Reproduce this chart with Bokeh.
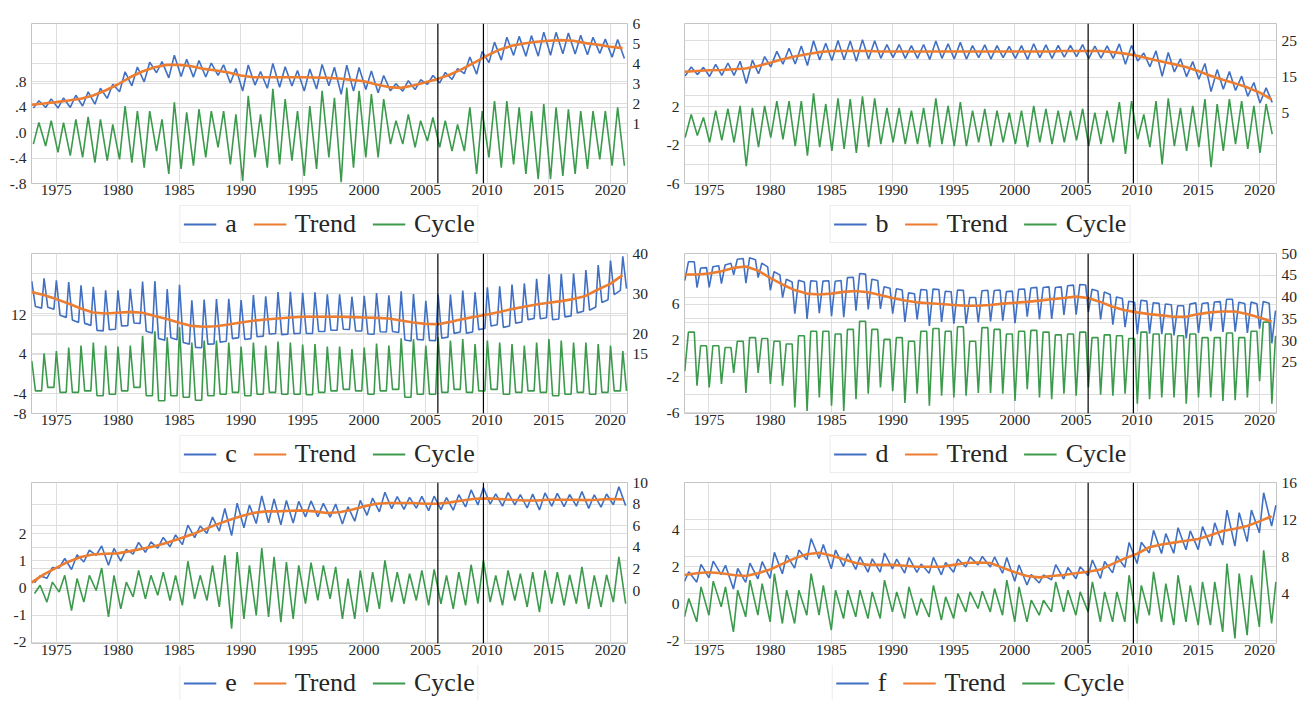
import numpy as np
from bokeh.plotting import figure
from bokeh.models import (Range1d, LinearAxis, FixedTicker, Grid, Span, Legend,
                          LegendItem, ColumnDataSource)
from bokeh.layouts import column, row
from bokeh.embed import file_html
from bokeh.resources import INLINE

# ---------------- data ----------------
years = list(range(1973, 2022))
x_ticks = [1975, 1980, 1985, 1990, 1995, 2000, 2005, 2010, 2015, 2020]
event_years = [2006.0, 2009.7]

names = ["a", "b", "c", "d", "e", "f"]

# panel a
a_trend = [1.94, 2.0, 2.07, 2.15, 2.24, 2.4, 2.65, 2.95, 3.31, 3.6,
           3.81, 3.93, 3.93, 3.86, 3.73, 3.65, 3.55, 3.4, 3.31, 3.31,
           3.31, 3.31, 3.31, 3.3, 3.28, 3.25, 3.18, 3.11, 2.95, 2.82,
           2.78, 2.9, 3.06, 3.23, 3.45, 3.73, 4.06, 4.39, 4.69, 4.89,
           5.0, 5.09, 5.14, 5.17, 5.14, 5.02, 4.94, 4.84, 4.77]
a_peak = [0.16, 0.19, 0.16, 0.21, 0.25, 0.21, 0.13, 0.42, 0.34, 0.34,
          0.21, 0.48, 0.32, 0.37, 0.34, 0.34, 0.29, 0.58, 0.29, 0.69,
          0.53, 0.34, 0.42, 0.66, 0.55, 0.71, 0.66, 0.61, 0.53, 0.19,
          0.29, 0.19, 0.24, 0.19, 0.13, 0.40, 0.34, 0.50, 0.50, 0.40,
          0.34, 0.45, 0.40, 0.37, 0.34, 0.34, 0.34, 0.40, 0.34]
a_trough = [-0.18, -0.21, -0.31, -0.36, -0.39, -0.47, -0.44, -0.42, -0.47, -0.55,
            -0.29, -0.65, -0.57, -0.52, -0.39, -0.23, -0.50, -0.76, -0.39, -0.55,
            -0.50, -0.44, -0.68, -0.57, -0.39, -0.78, -0.55, -0.39, -0.39, -0.18,
            -0.18, -0.23, -0.13, -0.23, -0.29, -0.29, -0.65, -0.39, -0.55, -0.50,
            -0.65, -0.73, -0.73, -0.68, -0.65, -0.57, -0.42, -0.52, -0.52]
a_left_range = [-0.8, 1.72]
a_right_range = [-2.0, 6.0]
a_left_ticks = [-0.8, -0.4, 0.0, 0.4, 0.8]
a_left_labels = ["-.8", "-.4", ".0", ".4", ".8"]
a_right_ticks = [1, 2, 3, 4, 5, 6]
a_right_labels = ["1", "2", "3", "4", "5", "6"]

# panel b
b_trend = [16.5, 16.7, 16.9, 17.0, 17.2, 17.4, 18.1, 19.0, 19.95, 20.7,
           21.3, 21.9, 22.2, 22.2, 22.2, 22.2, 22.1, 22.1, 22.1, 22.1,
           22.1, 22.1, 22.1, 22.1, 22.1, 22.1, 22.1, 22.1, 22.1, 22.1,
           22.1, 22.2, 22.2, 22.2, 22.2, 21.9, 21.5, 20.9, 20.1, 19.3,
           18.6, 17.8, 16.7, 15.4, 14.3, 13.3, 12.2, 10.8, 8.9]
b_peak = [1.2, 0.9, 1.6, 1.8, 2.1, 1.9, 2.1, 2.6, 2.6, 2.6,
          3.4, 2.3, 2.9, 2.8, 3.1, 2.9, 1.9, 1.9, 1.6, 1.9,
          2.9, 2.1, 2.5, 1.6, 1.8, 1.6, 1.4, 1.6, 2.1, 1.8,
          1.6, 1.6, 1.8, 1.4, 1.6, 2.5, 2.6, 1.2, 2.6, 2.9,
          1.9, 2.1, 2.8, 2.3, 2.8, 2.6, 2.1, 2.3, 2.3]
b_trough = [-1.2, -1.0, -1.7, -1.5, -1.7, -4.2, -2.2, -1.2, -1.4, -2.1,
            -3.1, -2.2, -2.6, -2.4, -2.8, -2.2, -1.9, -1.7, -1.9, -1.9,
            -2.2, -1.9, -2.1, -2.1, -1.7, -2.1, -1.7, -1.9, -2.2, -1.7,
            -1.9, -1.7, -1.5, -2.1, -1.9, -1.7, -2.9, -1.4, -2.2, -4.0,
            -2.1, -2.6, -2.2, -4.3, -2.6, -1.9, -2.4, -2.8, -0.85]
b_left_range = [-6.0, 10.7]
b_right_range = [-14.3, 29.8]
b_left_ticks = [-6, -4, -2, 0, 2]
b_left_labels = ["-6", "", "-2", "", "2"]
b_right_ticks = [5, 10, 15, 20, 25]
b_right_labels = ["5", "", "15", "", "25"]

# panel c
c_trend = [30.4, 29.6, 28.6, 27.5, 26.25, 25.25, 25.0, 25.2, 25.4, 25.2,
           24.4, 23.6, 22.7, 21.9, 21.7, 21.8, 22.25, 22.75, 23.2, 23.5,
           23.75, 24.0, 24.2, 24.2, 24.2, 24.2, 24.1, 24.0, 23.9, 23.75,
           23.25, 22.75, 22.4, 22.3, 22.9, 23.6, 24.2, 24.75, 25.4, 26.1,
           26.7, 27.25, 27.7, 28.1, 28.6, 29.4, 31.0, 32.4, 34.6]
c_peak = [2.7, 4.2, 4.7, 5.4, 5.8, 6.4, 5.8, 5.6, 5.8, 7.8,
          8.7, 7.5, 9.5, 6.4, 6.8, 6.8, 6.4, 5.6, 6.4, 5.8,
          6.6, 6.4, 6.0, 6.1, 5.6, 5.6, 5.1, 5.4, 6.2, 5.8,
          7.3, 7.1, 5.8, 7.5, 6.8, 7.1, 6.1, 6.8, 6.4, 6.1,
          5.8, 6.4, 7.1, 6.8, 6.4, 6.4, 6.1, 5.8, 4.7]
c_trough = [-3.4, -2.7, -3.7, -3.7, -3.4, -4.4, -4.1, -3.4, -2.7, -4.4,
            -5.4, -4.4, -4.7, -5.3, -4.4, -4.1, -3.7, -4.4, -4.1, -3.7,
            -4.1, -4.1, -4.2, -3.7, -3.4, -3.1, -3.4, -4.1, -3.4, -3.1,
            -4.7, -4.1, -4.1, -3.7, -3.1, -3.7, -3.4, -3.1, -4.1, -3.7,
            -3.4, -3.7, -4.4, -4.1, -3.7, -4.1, -3.7, -3.4, -3.4]
c_left_range = [-8.0, 24.5]
c_right_range = [0.0, 40.0]
c_left_ticks = [-8, -4, 0, 4, 8, 12]
c_left_labels = ["-8", "-4", "", "4", "", "12"]
c_right_ticks = [15, 20, 25, 30, 35, 40]
c_right_labels = ["15", "20", "", "30", "", "40"]

# panel d
d_trend = [45.2, 45.2, 45.4, 45.9, 46.7, 47.0, 46.1, 44.4, 42.9, 41.6,
           40.8, 40.6, 40.8, 41.2, 41.4, 41.1, 40.5, 39.8, 39.2, 38.8,
           38.6, 38.4, 38.2, 38.0, 38.0, 38.2, 38.5, 38.7, 38.9, 39.2,
           39.5, 39.8, 40.1, 39.8, 38.9, 37.8, 37.0, 36.5, 36.1, 35.8,
           35.5, 35.5, 36.1, 36.5, 36.7, 36.7, 36.1, 35.3, 34.4]
d_peak = [2.9, 1.4, 1.4, 1.2, 1.9, 2.3, 2.2, 1.9, 1.6, 2.5,
          3.0, 3.0, 2.7, 3.2, 4.1, 3.2, 2.1, 2.3, 1.9, 3.0,
          3.3, 3.0, 3.5, 1.9, 3.4, 3.2, 2.7, 3.0, 3.1, 2.9,
          2.6, 2.7, 2.9, 2.3, 2.6, 2.5, 2.2, 2.9, 2.7, 2.7,
          2.5, 2.7, 2.3, 2.3, 2.8, 2.3, 3.0, 4.0, 2.5]
d_trough = [-1.4, -3.0, -3.2, -2.8, -1.6, -3.8, -1.6, -2.8, -3.0, -5.4,
            -5.8, -4.3, -5.2, -5.8, -4.5, -3.9, -3.2, -3.6, -4.9, -3.9,
            -5.2, -4.1, -4.3, -4.1, -3.8, -3.8, -3.9, -4.7, -3.4, -4.3,
            -4.5, -3.9, -4.1, -3.2, -4.0, -4.1, -3.9, -5.0, -4.5, -4.3,
            -4.3, -5.0, -4.3, -4.3, -4.7, -4.6, -4.3, -2.5, -5.0]
d_left_range = [-6.07, 11.57]
d_right_range = [13.3, 50.0]
d_left_ticks = [-6, -4, -2, 0, 2, 4, 6]
d_left_labels = ["-6", "", "-2", "", "2", "", "6"]
d_right_ticks = [25, 30, 35, 40, 45, 50]
d_right_labels = ["25", "30", "35", "40", "45", "50"]

# panel e
e_trend = [0.74, 1.5, 2.1, 2.67, 3.1, 3.34, 3.4, 3.44, 3.65, 3.87,
           4.11, 4.42, 4.79, 5.18, 5.64, 6.1, 6.5, 6.87, 7.18, 7.33,
           7.33, 7.39, 7.42, 7.33, 7.18, 7.24, 7.48, 7.79, 8.04, 8.1,
           8.1, 8.1, 8.04, 8.04, 8.16, 8.34, 8.5, 8.53, 8.47, 8.4,
           8.34, 8.34, 8.4, 8.4, 8.4, 8.37, 8.4, 8.47, 8.44]
e_peak = [0.1, 0.22, 0.47, 0.35, 0.47, 0.74, 0.47, 0.22, 0.65, 0.47,
          0.59, 0.47, 0.99, 0.47, 0.84, 1.21, 1.33, 0.84, 1.48, 1.15,
          0.96, 0.84, 0.94, 0.84, 0.78, 0.35, 0.65, 0.59, 1.02, 0.59,
          0.53, 0.65, 0.69, 0.47, 0.59, 0.86, 1.02, 0.47, 0.65, 0.53,
          0.59, 0.65, 0.59, 0.49, 0.78, 0.47, 0.49, 1.15, 0.72]
e_trough = [-0.2, -0.52, -0.15, -0.83, -0.52, -0.09, -1.07, -0.77, -0.33, -0.4,
            -0.27, -0.46, -0.64, -0.4, -0.46, -0.7, -1.5, -1.14, -1.01, -1.07,
            -1.26, -1.14, -0.58, -0.46, -0.4, -1.14, -1.14, -0.89, -0.77, -0.52,
            -0.58, -0.46, -0.64, -0.58, -0.77, -0.64, -0.58, -0.52, -0.64, -0.46,
            -0.7, -0.89, -0.58, -0.64, -0.58, -0.77, -0.7, -0.52, -0.58]
e_left_range = [-2.05, 3.9]
e_right_range = [-4.9, 10.0]
e_left_ticks = [-2, -1, 0, 1, 2]
e_left_labels = ["-2", "-1", "0", "1", "2"]
e_right_ticks = [0, 2, 4, 6, 8, 10]
e_right_labels = ["0", "2", "4", "6", "8", "10"]

# panel f
f_trend = [6.0, 6.2, 6.3, 6.2, 6.0, 5.9, 6.2, 6.6, 7.2, 7.8,
           8.25, 8.4, 8.1, 7.7, 7.3, 7.1, 7.1, 7.1, 7.0, 6.9,
           6.9, 6.9, 7.1, 7.3, 7.35, 7.3, 6.8, 6.3, 5.9, 5.75,
           5.9, 6.0, 6.2, 6.35, 6.6, 7.2, 7.8, 8.3, 9.0, 9.3,
           9.5, 9.7, 9.9, 10.3, 10.75, 11.0, 11.3, 11.8, 12.35]
f_peak = [0.29, 0.92, 1.23, 0.92, 0.74, 1.28, 1.1, 1.64, 0.74, 0.74,
          1.64, 1.0, 0.74, 0.74, 0.74, 0.65, 1.28, 0.65, 0.92, 0.29,
          1.0, 0.38, 0.56, 0.65, 0.68, 0.83, 1.28, 0.92, 0.2, 0.2,
          1.19, 0.74, 0.65, 1.19, 0.65, 0.65, 1.55, 1.0, 1.73, 1.1,
          1.55, 1.0, 1.19, 1.19, 2.18, 1.64, 1.55, 2.9, 1.19]
f_trough = [-0.7, -0.97, -0.61, -0.16, -1.51, -0.7, -0.61, -0.97, -1.06, -1.06,
            -0.61, -0.61, -1.42, -0.79, -0.7, -0.79, -0.79, -0.43, -0.79, -0.61,
            -0.7, -0.88, -0.79, -0.43, -0.25, -0.43, -0.61, -0.97, -0.97, -0.61,
            -0.43, -0.43, -0.61, -0.43, -0.97, -0.97, -0.97, -1.06, -0.61, -0.97,
            -1.15, -0.97, -1.15, -1.15, -1.51, -1.87, -1.69, -1.24, -1.06]
f_left_range = [-2.14, 6.56]
f_right_range = [-1.4, 16.0]
f_left_ticks = [-2, 0, 2, 4]
f_left_labels = ["-2", "0", "2", "4"]
f_right_ticks = [4, 8, 12, 16]
f_right_labels = ["4", "8", "12", "16"]

# ---------------- style ----------------
X_START, X_END = 1973.0, 2021.4
BLUE, ORANGE, GREEN = "#4170c2", "#ec7d31", "#3c9a4c"
FONT = "Liberation Serif"
TXT = "#262626"
GRID = "#dedede"

# position of the seasonal peak / trough inside each year (drawing shape)
shape = {
    "a": dict(peak=[0.6], trough=[0.15]),
    "b": dict(peak=[0.55], trough=[0.05]),
    "c": dict(peak=[0.02], trough=[0.32, 0.82]),
    "d": dict(peak=[0.32, 0.8], trough=[0.02]),
    "e": dict(peak=[0.7], trough=[0.25]),
    "f": dict(peak=[0.35], trough=[0.0]),
}

data = {
    "a": (a_trend, a_peak, a_trough, a_left_range, a_right_range, a_left_ticks, a_left_labels, a_right_ticks, a_right_labels),
    "b": (b_trend, b_peak, b_trough, b_left_range, b_right_range, b_left_ticks, b_left_labels, b_right_ticks, b_right_labels),
    "c": (c_trend, c_peak, c_trough, c_left_range, c_right_range, c_left_ticks, c_left_labels, c_right_ticks, c_right_labels),
    "d": (d_trend, d_peak, d_trough, d_left_range, d_right_range, d_left_ticks, d_left_labels, d_right_ticks, d_right_labels),
    "e": (e_trend, e_peak, e_trough, e_left_range, e_right_range, e_left_ticks, e_left_labels, e_right_ticks, e_right_labels),
    "f": (f_trend, f_peak, f_trough, f_left_range, f_right_range, f_left_ticks, f_left_labels, f_right_ticks, f_right_labels),
}

# figure geometry per column / row
col_geom = [dict(width=654, left=31, right=27), dict(width=646, left=30, right=24)]
row_geom = [dict(top=23, frame=160, bottom=22, leg_h=38),
            dict(top=10, frame=160, bottom=22, leg_h=38),
            dict(top=9, frame=161, bottom=22, leg_h=35)]


def cycle_points(name, peaks, troughs):
    t, v = [], []
    for i, y in enumerate(years):
        for off in shape[name]["peak"]:
            t.append(y + off)
            v.append(peaks[i])
        for off in shape[name]["trough"]:
            t.append(y + off)
            v.append(troughs[i])
    t = np.array(t)
    v = np.array(v)
    order = np.argsort(t)
    t, v = t[order], v[order]
    keep = t <= X_END
    return t[keep], v[keep]


def style_axis(ax, standoff):
    ax.major_tick_in = 0
    ax.major_tick_out = 0
    ax.minor_tick_in = 0
    ax.minor_tick_out = 0
    ax.axis_line_color = None
    ax.major_label_text_font = FONT
    ax.major_label_text_font_size = "15.5px"
    ax.major_label_text_color = TXT
    ax.major_label_standoff = standoff


def make_panel(idx, name):
    trend, peaks, troughs, lr, rr, lt, ll, rt, rl = data[name]
    cg = col_geom[idx % 2]
    rg = row_geom[idx // 2]
    p = figure(width=cg["width"], height=rg["top"] + rg["frame"] + rg["bottom"],
               x_range=Range1d(X_START, X_END), y_range=Range1d(lr[0], lr[1]),
               output_backend="svg", toolbar_location=None,
               min_border_left=cg["left"], min_border_right=cg["right"],
               min_border_top=rg["top"], min_border_bottom=rg["bottom"])
    p.extra_y_ranges = {"r": Range1d(rr[0], rr[1])}
    p.outline_line_color = "#c4c4c4"
    p.outline_line_width = 1
    p.background_fill_color = "white"
    p.border_fill_color = "white"

    xt = FixedTicker(ticks=x_ticks)
    p.xaxis[0].ticker = xt
    p.xgrid[0].ticker = xt
    style_axis(p.xaxis[0], 1)

    ltick = FixedTicker(ticks=lt)
    p.yaxis[0].ticker = ltick
    p.ygrid[0].ticker = ltick
    p.yaxis[0].major_label_overrides = {float(v): s for v, s in zip(lt, ll)}
    style_axis(p.yaxis[0], 5)

    rtick = FixedTicker(ticks=rt)
    rax = LinearAxis(y_range_name="r", ticker=rtick)
    rax.major_label_overrides = {float(v): s for v, s in zip(rt, rl)}
    style_axis(rax, 5)
    p.add_layout(rax, "right")
    p.add_layout(Grid(dimension=1, ticker=rtick, y_range_name="r",
                      grid_line_color=GRID, grid_line_width=1))

    for g in (p.xgrid[0], p.ygrid[0]):
        g.grid_line_color = GRID
        g.grid_line_width = 1

    for ev in event_years:
        p.add_layout(Span(location=ev, dimension="height", line_color="black",
                          line_width=1.2))

    ct, cv = cycle_points(name, peaks, troughs)
    series = np.interp(ct, years, trend) + cv

    p.line(x="t", y="v", source=ColumnDataSource(dict(t=ct, v=cv)),
           line_color=GREEN, line_width=1.6)
    p.line(x="t", y="v", source=ColumnDataSource(dict(t=ct, v=series)),
           line_color=BLUE, line_width=1.6, y_range_name="r")
    p.line(x="t", y="v", source=ColumnDataSource(dict(t=years, v=trend)),
           line_color=ORANGE, line_width=2.6, y_range_name="r")

    # legend strip under the panel (its own small figure, frame aligned with panel)
    lf = figure(width=cg["width"], height=rg["leg_h"],
                x_range=Range1d(0, 1), y_range=Range1d(0, 1),
                x_axis_type=None, y_axis_type=None,
                output_backend="svg", toolbar_location=None,
                min_border_left=cg["left"], min_border_right=cg["right"],
                min_border_top=0, min_border_bottom=0)
    lf.outline_line_color = None
    lf.background_fill_color = "white"
    lf.border_fill_color = "white"
    # placeholder renderers (a single NaN point: nothing is drawn in the strip)
    g_series = lf.line(x=[np.nan], y=[np.nan], line_color=BLUE, line_width=1.8)
    g_trend = lf.line(x=[np.nan], y=[np.nan], line_color=ORANGE, line_width=1.8)
    g_cycle = lf.line(x=[np.nan], y=[np.nan], line_color=GREEN, line_width=1.8)
    leg = Legend(items=[LegendItem(label=name, renderers=[g_series]),
                        LegendItem(label="Trend", renderers=[g_trend]),
                        LegendItem(label="Cycle", renderers=[g_cycle])],
                 orientation="horizontal", nrows=1, location="center",
                 label_text_font=FONT, label_text_font_size="26px",
                 label_text_color=TXT,
                 glyph_width=33, glyph_height=18, label_height=18, label_width=8,
                 label_standoff=9, spacing=16, padding=3, margin=0,
                 border_line_color="#dadada", border_line_width=1,
                 background_fill_color="white", background_fill_alpha=1.0)
    lf.add_layout(leg, "center")
    return column(p, lf)


cells = [make_panel(i, n) for i, n in enumerate(names)]
layout = column(row(cells[0], cells[1]), row(cells[2], cells[3]), row(cells[4], cells[5]))

open("out.html", "w").write(file_html(layout, INLINE))
